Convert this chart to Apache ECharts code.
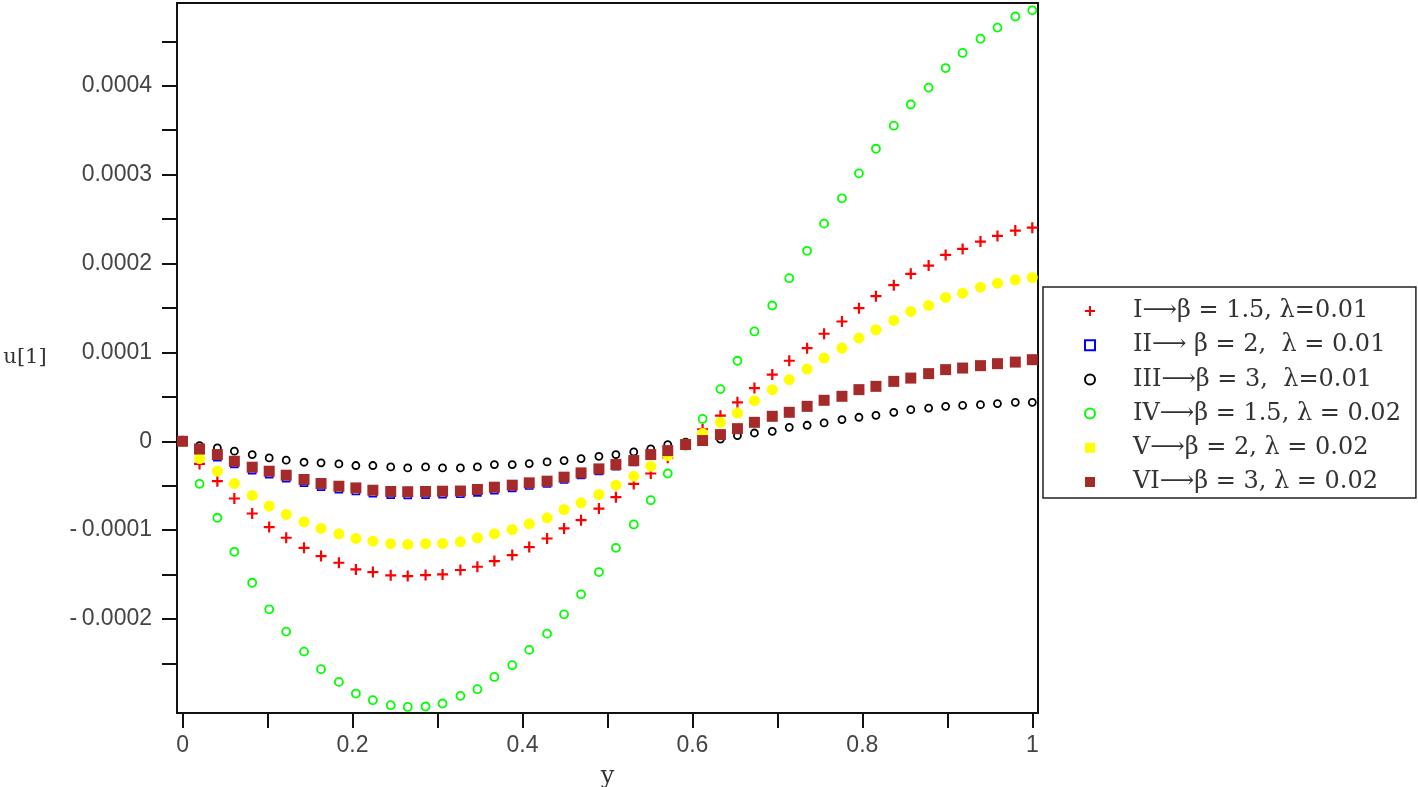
<!DOCTYPE html>
<html>
<head>
<meta charset="utf-8">
<script src="https://cdn.jsdelivr.net/npm/echarts@6/dist/echarts.min.js"></script>
<style>
html,body{margin:0;padding:0;background:#fff;}
#chart{width:1418px;height:787px;}
</style>
</head>
<body>
<div id="chart"></div>
<script>
// x positions (y coordinate of the channel)
const xs = [0, 0.020, 0.041, 0.061, 0.082, 0.102, 0.122, 0.143, 0.163, 0.184,
  0.204, 0.224, 0.245, 0.265, 0.286, 0.306, 0.327, 0.347, 0.367, 0.388,
  0.408, 0.429, 0.449, 0.469, 0.490, 0.510, 0.531, 0.551, 0.571, 0.592,
  0.612, 0.633, 0.653, 0.673, 0.694, 0.714, 0.735, 0.755, 0.776, 0.796,
  0.816, 0.837, 0.857, 0.878, 0.898, 0.918, 0.939, 0.959, 0.980, 1.000];

// u[1] values, in units of 1e-4
const seriesI = [0, -0.255, -0.449, -0.644, -0.813, -0.966, -1.086, -1.199, -1.292, -1.367,
  -1.442, -1.472, -1.509, -1.517, -1.506, -1.498, -1.449, -1.412, -1.348, -1.281,
  -1.191, -1.094, -0.981, -0.888, -0.757, -0.629, -0.480, -0.363, -0.185, -0.030,
  0.135, 0.288, 0.438, 0.599, 0.750, 0.906, 1.048, 1.210, 1.348, 1.498,
  1.633, 1.756, 1.884, 1.977, 2.097, 2.165, 2.247, 2.311, 2.371, 2.404];
const seriesII = [0, -0.100, -0.180, -0.255, -0.325, -0.370, -0.415, -0.465, -0.510, -0.540,
  -0.560, -0.585, -0.600, -0.603, -0.600, -0.597, -0.590, -0.575, -0.550, -0.525,
  -0.497, -0.475, -0.430, -0.380, -0.333, -0.280, -0.232, -0.162, -0.113, -0.040,
  0.010, 0.078, 0.145, 0.215, 0.285, 0.330, 0.397, 0.465, 0.510, 0.585,
  0.622, 0.678, 0.715, 0.765, 0.810, 0.828, 0.855, 0.877, 0.895, 0.920];
const seriesIII = [0, -0.050, -0.075, -0.112, -0.150, -0.187, -0.213, -0.236, -0.243, -0.255,
  -0.273, -0.273, -0.289, -0.300, -0.289, -0.300, -0.300, -0.289, -0.262, -0.262,
  -0.251, -0.232, -0.217, -0.195, -0.169, -0.150, -0.120, -0.086, -0.037, -0.010,
  0.000, 0.025, 0.064, 0.093, 0.112, 0.157, 0.180, 0.206, 0.244, 0.270,
  0.292, 0.326, 0.356, 0.374, 0.393, 0.404, 0.412, 0.424, 0.438, 0.438];
const seriesIV = [0, -0.479, -0.861, -1.244, -1.592, -1.891, -2.142, -2.367, -2.565, -2.708,
  -2.839, -2.914, -2.970, -2.990, -2.985, -2.951, -2.865, -2.790, -2.652, -2.520,
  -2.348, -2.165, -1.948, -1.723, -1.472, -1.199, -0.936, -0.663, -0.363, -0.050,
  0.251, 0.587, 0.906, 1.236, 1.528, 1.835, 2.143, 2.449, 2.734, 3.015,
  3.292, 3.551, 3.790, 3.980, 4.200, 4.370, 4.530, 4.655, 4.780, 4.850];
const seriesV = [0, -0.195, -0.337, -0.476, -0.610, -0.730, -0.824, -0.906, -0.981, -1.041,
  -1.094, -1.124, -1.153, -1.161, -1.153, -1.150, -1.131, -1.086, -1.041, -0.993,
  -0.929, -0.861, -0.768, -0.693, -0.599, -0.494, -0.393, -0.281, -0.160, -0.035,
  0.087, 0.213, 0.318, 0.457, 0.580, 0.693, 0.812, 0.936, 1.049, 1.161,
  1.255, 1.360, 1.461, 1.528, 1.618, 1.666, 1.734, 1.779, 1.817, 1.843];
const seriesVI = [0, -0.087, -0.150, -0.225, -0.292, -0.337, -0.382, -0.430, -0.475, -0.506,
  -0.525, -0.551, -0.565, -0.568, -0.565, -0.562, -0.560, -0.543, -0.517, -0.494,
  -0.468, -0.449, -0.404, -0.356, -0.311, -0.262, -0.217, -0.150, -0.105, -0.037,
  0.008, 0.075, 0.142, 0.213, 0.281, 0.326, 0.393, 0.461, 0.506, 0.581,
  0.618, 0.674, 0.711, 0.761, 0.806, 0.824, 0.851, 0.873, 0.891, 0.918];

const names = [
  'I\u27F6\u03B2 = 1.5, \u03BB=0.01',
  'II\u27F6 \u03B2 = 2,  \u03BB = 0.01',
  'III\u27F6\u03B2 = 3,  \u03BB=0.01',
  'IV\u27F6\u03B2 = 1.5, \u03BB = 0.02',
  'V\u27F6\u03B2 = 2, \u03BB = 0.02',
  'VI\u27F6\u03B2 = 3, \u03BB = 0.02'
];

// tick positions (units of 1e-4 for y)
const xTicks = [0, 0.1, 0.2, 0.3, 0.4, 0.5, 0.6, 0.7, 0.8, 0.9, 1];
const xLabels = [0, 0.2, 0.4, 0.6, 0.8, 1];
const yTicks = [-2.5, -2, -1.5, -1, -0.5, 0, 0.5, 1, 1.5, 2, 2.5, 3, 3.5, 4, 4.5];
const yLabels = [-2, -1, 0, 1, 2, 3, 4];

const toPairs = arr => xs.map((x, i) => [x, arr[i]]);
const plus = 'path://M4,0L6,0L6,4L10,4L10,6L6,6L6,10L4,10L4,6L0,6L0,4L4,4Z';
const square = 'path://M0,0L10,0L10,10L0,10Z';
const clear = 'rgba(0,0,0,0)';

const chart = echarts.init(document.getElementById('chart'), null, {renderer: 'canvas'});
chart.setOption({
  animation: false,
  backgroundColor: '#fff',
  grid: {
    left: 177, top: 3, width: 861, height: 710,
    show: true, borderColor: '#111', borderWidth: 2, backgroundColor: 'transparent',
    containLabel: false, outerBoundsMode: 'none'
  },
  xAxis: {
    type: 'value', min: -0.0065, max: 1.0067,
    name: 'y', nameLocation: 'middle', nameGap: 52,
    nameTextStyle: {fontFamily: 'DejaVu Serif', fontSize: 24, color: '#333'},
    axisLine: {show: true, onZero: false, lineStyle: {color: '#111', width: 2}},
    axisTick: {show: true, length: 15, lineStyle: {color: '#111', width: 2}, customValues: xTicks},
    axisLabel: {
      customValues: xLabels, margin: 21,
      fontFamily: 'Liberation Sans', fontSize: 23, color: '#444',
      formatter: v => String(parseFloat(v.toFixed(2)))
    },
    splitLine: {show: false}
  },
  yAxis: {
    type: 'value', min: -3.058, max: 4.932,
    name: 'u[1]', nameLocation: 'middle', nameGap: 152, nameRotate: 0,
    nameTextStyle: {fontFamily: 'DejaVu Serif', fontSize: 21, color: '#333', align: 'center', verticalAlign: 'middle'},
    axisLine: {show: true, onZero: false, lineStyle: {color: '#111', width: 2}},
    axisTick: {show: true, length: 15, lineStyle: {color: '#111', width: 2}, customValues: yTicks},
    axisLabel: {
      customValues: yLabels, margin: 25,
      fontFamily: 'Liberation Sans', fontSize: 23, color: '#444',
      formatter: v => v === 0 ? '0' : (v < 0 ? '-\u2009' : '') + (Math.abs(v) / 10000).toFixed(4)
    },
    splitLine: {show: false}
  },
  legend: {
    orient: 'vertical', left: 1043, top: 287,
    padding: [12, 15, 4, 41],
    itemWidth: 10, itemHeight: 10, itemGap: 10.2,
    symbolKeepAspect: true,
    borderColor: '#222', borderWidth: 1.5, backgroundColor: '#fff',
    textStyle: {fontFamily: 'DejaVu Serif', fontSize: 24, color: '#333', lineHeight: 24, padding: [0, 0, 0, 33]},
    data: [
      {name: names[0]}, {name: names[1]}, {name: names[2]},
      {name: names[3]}, {name: names[4], icon: square}, {name: names[5]}
    ]
  },
  series: [
    {name: names[0], type: 'scatter', data: toPairs(seriesI), symbol: plus, symbolSize: 11,
     itemStyle: {color: '#ff0000', opacity: 1}},
    {name: names[1], type: 'scatter', data: toPairs(seriesII), symbol: square, symbolSize: 7,
     itemStyle: {color: clear, borderColor: '#0000ff', borderWidth: 1.6, opacity: 1}},
    {name: names[2], type: 'scatter', data: toPairs(seriesIII), symbol: 'circle', symbolSize: 7,
     itemStyle: {color: clear, borderColor: '#000000', borderWidth: 1.8, opacity: 1}},
    {name: names[3], type: 'scatter', data: toPairs(seriesIV), symbol: 'circle', symbolSize: 8,
     itemStyle: {color: clear, borderColor: '#00ff00', borderWidth: 1.8, opacity: 1}},
    {name: names[4], type: 'scatter', data: toPairs(seriesV), symbol: 'circle', symbolSize: 11,
     itemStyle: {color: '#ffff00', opacity: 1}},
    {name: names[5], type: 'scatter', data: toPairs(seriesVI), symbol: square, symbolSize: 11,
     itemStyle: {color: '#a52a2a', opacity: 1}}
  ]
});
</script>
</body>
</html>
